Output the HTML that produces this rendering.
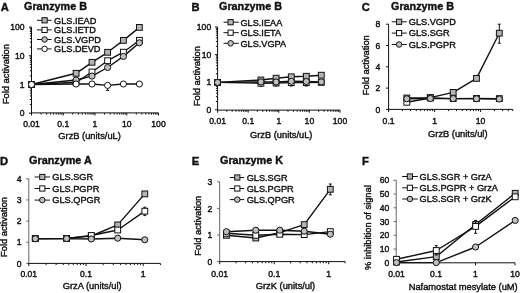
<!DOCTYPE html>
<html><head><meta charset="utf-8"><style>
html,body{margin:0;padding:0;background:#fff;}
body{width:520px;height:293px;overflow:hidden;}
svg{display:block;will-change:transform;filter:blur(0.3px);}
text{font-family:"Liberation Sans", sans-serif;fill:#111;stroke:#111;stroke-width:0.4px;}
</style></head><body>
<svg width="520" height="293" viewBox="0 0 520 293">
<rect width="520" height="293" fill="#fff"/>
<text x="0.80" y="11.00" font-size="11.2" text-anchor="start" font-weight="bold">A</text>
<text x="24.00" y="9.60" font-size="10.8" text-anchor="start" font-weight="bold">Granzyme B</text>
<line x1="31.50" y1="27.10" x2="31.50" y2="113.70" stroke="#111" stroke-width="1.0"/>
<line x1="28.90" y1="113.20" x2="31.50" y2="113.20" stroke="#111" stroke-width="1.0"/>
<line x1="29.80" y1="104.56" x2="31.50" y2="104.56" stroke="#111" stroke-width="1.0"/>
<line x1="29.80" y1="99.51" x2="31.50" y2="99.51" stroke="#111" stroke-width="1.0"/>
<line x1="29.80" y1="95.92" x2="31.50" y2="95.92" stroke="#111" stroke-width="1.0"/>
<line x1="29.80" y1="93.14" x2="31.50" y2="93.14" stroke="#111" stroke-width="1.0"/>
<line x1="29.80" y1="90.87" x2="31.50" y2="90.87" stroke="#111" stroke-width="1.0"/>
<line x1="29.80" y1="88.95" x2="31.50" y2="88.95" stroke="#111" stroke-width="1.0"/>
<line x1="29.80" y1="87.28" x2="31.50" y2="87.28" stroke="#111" stroke-width="1.0"/>
<line x1="29.80" y1="85.81" x2="31.50" y2="85.81" stroke="#111" stroke-width="1.0"/>
<line x1="28.90" y1="84.50" x2="31.50" y2="84.50" stroke="#111" stroke-width="1.0"/>
<line x1="29.80" y1="75.86" x2="31.50" y2="75.86" stroke="#111" stroke-width="1.0"/>
<line x1="29.80" y1="70.81" x2="31.50" y2="70.81" stroke="#111" stroke-width="1.0"/>
<line x1="29.80" y1="67.22" x2="31.50" y2="67.22" stroke="#111" stroke-width="1.0"/>
<line x1="29.80" y1="64.44" x2="31.50" y2="64.44" stroke="#111" stroke-width="1.0"/>
<line x1="29.80" y1="62.17" x2="31.50" y2="62.17" stroke="#111" stroke-width="1.0"/>
<line x1="29.80" y1="60.25" x2="31.50" y2="60.25" stroke="#111" stroke-width="1.0"/>
<line x1="29.80" y1="58.58" x2="31.50" y2="58.58" stroke="#111" stroke-width="1.0"/>
<line x1="29.80" y1="57.11" x2="31.50" y2="57.11" stroke="#111" stroke-width="1.0"/>
<line x1="28.90" y1="55.80" x2="31.50" y2="55.80" stroke="#111" stroke-width="1.0"/>
<line x1="29.80" y1="47.16" x2="31.50" y2="47.16" stroke="#111" stroke-width="1.0"/>
<line x1="29.80" y1="42.11" x2="31.50" y2="42.11" stroke="#111" stroke-width="1.0"/>
<line x1="29.80" y1="38.52" x2="31.50" y2="38.52" stroke="#111" stroke-width="1.0"/>
<line x1="29.80" y1="35.74" x2="31.50" y2="35.74" stroke="#111" stroke-width="1.0"/>
<line x1="29.80" y1="33.47" x2="31.50" y2="33.47" stroke="#111" stroke-width="1.0"/>
<line x1="29.80" y1="31.55" x2="31.50" y2="31.55" stroke="#111" stroke-width="1.0"/>
<line x1="29.80" y1="29.88" x2="31.50" y2="29.88" stroke="#111" stroke-width="1.0"/>
<line x1="29.80" y1="28.41" x2="31.50" y2="28.41" stroke="#111" stroke-width="1.0"/>
<line x1="28.90" y1="27.10" x2="31.50" y2="27.10" stroke="#111" stroke-width="1.0"/>
<text x="24.60" y="30.20" font-size="8.6" text-anchor="end">100</text>
<text x="24.60" y="58.90" font-size="8.6" text-anchor="end">10</text>
<text x="24.60" y="87.60" font-size="8.6" text-anchor="end">1</text>
<text x="24.60" y="116.30" font-size="8.6" text-anchor="end">0</text>
<line x1="31.00" y1="112.90" x2="158.50" y2="112.90" stroke="#111" stroke-width="1.0"/>
<line x1="31.50" y1="112.90" x2="31.50" y2="115.50" stroke="#111" stroke-width="1.0"/>
<line x1="41.06" y1="112.90" x2="41.06" y2="114.60" stroke="#111" stroke-width="1.0"/>
<line x1="46.65" y1="112.90" x2="46.65" y2="114.60" stroke="#111" stroke-width="1.0"/>
<line x1="50.62" y1="112.90" x2="50.62" y2="114.60" stroke="#111" stroke-width="1.0"/>
<line x1="53.69" y1="112.90" x2="53.69" y2="114.60" stroke="#111" stroke-width="1.0"/>
<line x1="56.21" y1="112.90" x2="56.21" y2="114.60" stroke="#111" stroke-width="1.0"/>
<line x1="58.33" y1="112.90" x2="58.33" y2="114.60" stroke="#111" stroke-width="1.0"/>
<line x1="60.17" y1="112.90" x2="60.17" y2="114.60" stroke="#111" stroke-width="1.0"/>
<line x1="61.80" y1="112.90" x2="61.80" y2="114.60" stroke="#111" stroke-width="1.0"/>
<line x1="63.25" y1="112.90" x2="63.25" y2="115.50" stroke="#111" stroke-width="1.0"/>
<line x1="72.81" y1="112.90" x2="72.81" y2="114.60" stroke="#111" stroke-width="1.0"/>
<line x1="78.40" y1="112.90" x2="78.40" y2="114.60" stroke="#111" stroke-width="1.0"/>
<line x1="82.37" y1="112.90" x2="82.37" y2="114.60" stroke="#111" stroke-width="1.0"/>
<line x1="85.44" y1="112.90" x2="85.44" y2="114.60" stroke="#111" stroke-width="1.0"/>
<line x1="87.96" y1="112.90" x2="87.96" y2="114.60" stroke="#111" stroke-width="1.0"/>
<line x1="90.08" y1="112.90" x2="90.08" y2="114.60" stroke="#111" stroke-width="1.0"/>
<line x1="91.92" y1="112.90" x2="91.92" y2="114.60" stroke="#111" stroke-width="1.0"/>
<line x1="93.55" y1="112.90" x2="93.55" y2="114.60" stroke="#111" stroke-width="1.0"/>
<line x1="95.00" y1="112.90" x2="95.00" y2="115.50" stroke="#111" stroke-width="1.0"/>
<line x1="104.56" y1="112.90" x2="104.56" y2="114.60" stroke="#111" stroke-width="1.0"/>
<line x1="110.15" y1="112.90" x2="110.15" y2="114.60" stroke="#111" stroke-width="1.0"/>
<line x1="114.12" y1="112.90" x2="114.12" y2="114.60" stroke="#111" stroke-width="1.0"/>
<line x1="117.19" y1="112.90" x2="117.19" y2="114.60" stroke="#111" stroke-width="1.0"/>
<line x1="119.71" y1="112.90" x2="119.71" y2="114.60" stroke="#111" stroke-width="1.0"/>
<line x1="121.83" y1="112.90" x2="121.83" y2="114.60" stroke="#111" stroke-width="1.0"/>
<line x1="123.67" y1="112.90" x2="123.67" y2="114.60" stroke="#111" stroke-width="1.0"/>
<line x1="125.30" y1="112.90" x2="125.30" y2="114.60" stroke="#111" stroke-width="1.0"/>
<line x1="126.75" y1="112.90" x2="126.75" y2="115.50" stroke="#111" stroke-width="1.0"/>
<line x1="136.31" y1="112.90" x2="136.31" y2="114.60" stroke="#111" stroke-width="1.0"/>
<line x1="141.90" y1="112.90" x2="141.90" y2="114.60" stroke="#111" stroke-width="1.0"/>
<line x1="145.87" y1="112.90" x2="145.87" y2="114.60" stroke="#111" stroke-width="1.0"/>
<line x1="148.94" y1="112.90" x2="148.94" y2="114.60" stroke="#111" stroke-width="1.0"/>
<line x1="151.46" y1="112.90" x2="151.46" y2="114.60" stroke="#111" stroke-width="1.0"/>
<line x1="153.58" y1="112.90" x2="153.58" y2="114.60" stroke="#111" stroke-width="1.0"/>
<line x1="155.42" y1="112.90" x2="155.42" y2="114.60" stroke="#111" stroke-width="1.0"/>
<line x1="157.05" y1="112.90" x2="157.05" y2="114.60" stroke="#111" stroke-width="1.0"/>
<line x1="158.50" y1="112.90" x2="158.50" y2="115.50" stroke="#111" stroke-width="1.0"/>
<text x="31.50" y="126.50" font-size="8.6" text-anchor="middle">0.01</text>
<text x="63.25" y="126.50" font-size="8.6" text-anchor="middle">0.1</text>
<text x="95.00" y="126.50" font-size="8.6" text-anchor="middle">1</text>
<text x="126.75" y="126.50" font-size="8.6" text-anchor="middle">10</text>
<text x="158.50" y="126.50" font-size="8.6" text-anchor="middle">100</text>
<text x="89.60" y="139.30" font-size="9.3" text-anchor="middle">GrzB (units/uL)</text>
<text x="9.40" y="74.10" font-size="9.3" text-anchor="middle" transform="rotate(-90 9.40 74.10)">Fold activation</text>
<line x1="37.00" y1="20.30" x2="51.50" y2="20.30" stroke="#111" stroke-width="1.0"/>
<rect x="42.00" y="17.70" width="5.20" height="5.20" fill="#b4b4b4" stroke="#111" stroke-width="1"/>
<text x="54.00" y="23.60" font-size="9.2" text-anchor="start">GLS.IEAD</text>
<line x1="37.00" y1="29.90" x2="51.50" y2="29.90" stroke="#111" stroke-width="1.0"/>
<rect x="42.00" y="27.30" width="5.20" height="5.20" fill="#fff" stroke="#111" stroke-width="1"/>
<text x="54.00" y="33.20" font-size="9.2" text-anchor="start">GLS.IETD</text>
<line x1="37.00" y1="39.50" x2="51.50" y2="39.50" stroke="#111" stroke-width="1.0"/>
<circle cx="44.60" cy="39.50" r="2.76" fill="#c0c0c0" stroke="#111" stroke-width="1"/>
<text x="54.00" y="42.80" font-size="9.2" text-anchor="start">GLS.VGPD</text>
<line x1="37.00" y1="48.90" x2="51.50" y2="48.90" stroke="#111" stroke-width="1.0"/>
<circle cx="44.60" cy="48.90" r="2.76" fill="#fff" stroke="#111" stroke-width="1"/>
<text x="54.00" y="52.20" font-size="9.2" text-anchor="start">GLS.DEVD</text>
<polyline points="31.50,84.50 76.10,73.30 92.00,62.30 107.60,52.30 123.40,40.40 139.40,27.40" fill="none" stroke="#111" stroke-width="1.4" stroke-linejoin="round"/>
<polyline points="31.50,84.50 76.10,82.30 92.00,72.00 107.60,60.70 123.40,52.20 139.40,40.30" fill="none" stroke="#111" stroke-width="1.4" stroke-linejoin="round"/>
<polyline points="31.50,84.50 76.10,80.00 92.00,76.10 107.60,67.50 123.40,56.40 139.40,42.80" fill="none" stroke="#111" stroke-width="1.4" stroke-linejoin="round"/>
<polyline points="31.50,84.50 76.10,84.00 92.00,84.00 107.60,85.40 123.40,84.00 139.40,84.00" fill="none" stroke="#111" stroke-width="1.4" stroke-linejoin="round"/>
<rect x="28.60" y="81.60" width="5.80" height="5.80" fill="#b4b4b4" stroke="#111" stroke-width="1"/>
<rect x="73.20" y="70.40" width="5.80" height="5.80" fill="#b4b4b4" stroke="#111" stroke-width="1"/>
<rect x="89.10" y="59.40" width="5.80" height="5.80" fill="#b4b4b4" stroke="#111" stroke-width="1"/>
<rect x="104.70" y="49.40" width="5.80" height="5.80" fill="#b4b4b4" stroke="#111" stroke-width="1"/>
<rect x="120.50" y="37.50" width="5.80" height="5.80" fill="#b4b4b4" stroke="#111" stroke-width="1"/>
<rect x="136.50" y="24.50" width="5.80" height="5.80" fill="#b4b4b4" stroke="#111" stroke-width="1"/>
<rect x="28.60" y="81.60" width="5.80" height="5.80" fill="#fff" stroke="#111" stroke-width="1"/>
<rect x="73.20" y="79.40" width="5.80" height="5.80" fill="#fff" stroke="#111" stroke-width="1"/>
<rect x="89.10" y="69.10" width="5.80" height="5.80" fill="#fff" stroke="#111" stroke-width="1"/>
<rect x="104.70" y="57.80" width="5.80" height="5.80" fill="#fff" stroke="#111" stroke-width="1"/>
<rect x="120.50" y="49.30" width="5.80" height="5.80" fill="#fff" stroke="#111" stroke-width="1"/>
<rect x="136.50" y="37.40" width="5.80" height="5.80" fill="#fff" stroke="#111" stroke-width="1"/>
<circle cx="31.50" cy="84.50" r="3.07" fill="#c0c0c0" stroke="#111" stroke-width="1"/>
<circle cx="76.10" cy="80.00" r="3.07" fill="#c0c0c0" stroke="#111" stroke-width="1"/>
<circle cx="92.00" cy="76.10" r="3.07" fill="#c0c0c0" stroke="#111" stroke-width="1"/>
<circle cx="107.60" cy="67.50" r="3.07" fill="#c0c0c0" stroke="#111" stroke-width="1"/>
<circle cx="123.40" cy="56.40" r="3.07" fill="#c0c0c0" stroke="#111" stroke-width="1"/>
<circle cx="139.40" cy="42.80" r="3.07" fill="#c0c0c0" stroke="#111" stroke-width="1"/>
<line x1="107.60" y1="84.00" x2="107.60" y2="90.40" stroke="#111" stroke-width="1.0"/>
<line x1="106.10" y1="84.00" x2="109.10" y2="84.00" stroke="#111" stroke-width="1.0"/>
<line x1="106.10" y1="90.40" x2="109.10" y2="90.40" stroke="#111" stroke-width="1.0"/>
<circle cx="31.50" cy="84.50" r="3.07" fill="#fff" stroke="#111" stroke-width="1"/>
<circle cx="76.10" cy="84.00" r="3.07" fill="#fff" stroke="#111" stroke-width="1"/>
<circle cx="92.00" cy="84.00" r="3.07" fill="#fff" stroke="#111" stroke-width="1"/>
<circle cx="107.60" cy="85.40" r="3.07" fill="#fff" stroke="#111" stroke-width="1"/>
<circle cx="123.40" cy="84.00" r="3.07" fill="#fff" stroke="#111" stroke-width="1"/>
<circle cx="139.40" cy="84.00" r="3.07" fill="#fff" stroke="#111" stroke-width="1"/>
<text x="191.60" y="11.00" font-size="11.2" text-anchor="start" font-weight="bold">B</text>
<text x="219.00" y="9.60" font-size="10.8" text-anchor="start" font-weight="bold">Granzyme B</text>
<line x1="217.60" y1="27.00" x2="217.60" y2="110.30" stroke="#111" stroke-width="1.0"/>
<line x1="215.00" y1="109.80" x2="217.60" y2="109.80" stroke="#111" stroke-width="1.0"/>
<line x1="215.90" y1="101.49" x2="217.60" y2="101.49" stroke="#111" stroke-width="1.0"/>
<line x1="215.90" y1="96.63" x2="217.60" y2="96.63" stroke="#111" stroke-width="1.0"/>
<line x1="215.90" y1="93.18" x2="217.60" y2="93.18" stroke="#111" stroke-width="1.0"/>
<line x1="215.90" y1="90.51" x2="217.60" y2="90.51" stroke="#111" stroke-width="1.0"/>
<line x1="215.90" y1="88.32" x2="217.60" y2="88.32" stroke="#111" stroke-width="1.0"/>
<line x1="215.90" y1="86.48" x2="217.60" y2="86.48" stroke="#111" stroke-width="1.0"/>
<line x1="215.90" y1="84.87" x2="217.60" y2="84.87" stroke="#111" stroke-width="1.0"/>
<line x1="215.90" y1="83.46" x2="217.60" y2="83.46" stroke="#111" stroke-width="1.0"/>
<line x1="215.00" y1="82.20" x2="217.60" y2="82.20" stroke="#111" stroke-width="1.0"/>
<line x1="215.90" y1="73.89" x2="217.60" y2="73.89" stroke="#111" stroke-width="1.0"/>
<line x1="215.90" y1="69.03" x2="217.60" y2="69.03" stroke="#111" stroke-width="1.0"/>
<line x1="215.90" y1="65.58" x2="217.60" y2="65.58" stroke="#111" stroke-width="1.0"/>
<line x1="215.90" y1="62.91" x2="217.60" y2="62.91" stroke="#111" stroke-width="1.0"/>
<line x1="215.90" y1="60.72" x2="217.60" y2="60.72" stroke="#111" stroke-width="1.0"/>
<line x1="215.90" y1="58.88" x2="217.60" y2="58.88" stroke="#111" stroke-width="1.0"/>
<line x1="215.90" y1="57.27" x2="217.60" y2="57.27" stroke="#111" stroke-width="1.0"/>
<line x1="215.90" y1="55.86" x2="217.60" y2="55.86" stroke="#111" stroke-width="1.0"/>
<line x1="215.00" y1="54.60" x2="217.60" y2="54.60" stroke="#111" stroke-width="1.0"/>
<line x1="215.90" y1="46.29" x2="217.60" y2="46.29" stroke="#111" stroke-width="1.0"/>
<line x1="215.90" y1="41.43" x2="217.60" y2="41.43" stroke="#111" stroke-width="1.0"/>
<line x1="215.90" y1="37.98" x2="217.60" y2="37.98" stroke="#111" stroke-width="1.0"/>
<line x1="215.90" y1="35.31" x2="217.60" y2="35.31" stroke="#111" stroke-width="1.0"/>
<line x1="215.90" y1="33.12" x2="217.60" y2="33.12" stroke="#111" stroke-width="1.0"/>
<line x1="215.90" y1="31.28" x2="217.60" y2="31.28" stroke="#111" stroke-width="1.0"/>
<line x1="215.90" y1="29.67" x2="217.60" y2="29.67" stroke="#111" stroke-width="1.0"/>
<line x1="215.90" y1="28.26" x2="217.60" y2="28.26" stroke="#111" stroke-width="1.0"/>
<line x1="215.00" y1="27.00" x2="217.60" y2="27.00" stroke="#111" stroke-width="1.0"/>
<text x="211.20" y="30.10" font-size="8.6" text-anchor="end">100</text>
<text x="211.20" y="57.70" font-size="8.6" text-anchor="end">10</text>
<text x="211.20" y="85.30" font-size="8.6" text-anchor="end">1</text>
<text x="211.20" y="112.90" font-size="8.6" text-anchor="end">0</text>
<line x1="217.10" y1="110.10" x2="340.00" y2="110.10" stroke="#111" stroke-width="1.0"/>
<line x1="217.60" y1="110.10" x2="217.60" y2="112.70" stroke="#111" stroke-width="1.0"/>
<line x1="226.81" y1="110.10" x2="226.81" y2="111.80" stroke="#111" stroke-width="1.0"/>
<line x1="232.20" y1="110.10" x2="232.20" y2="111.80" stroke="#111" stroke-width="1.0"/>
<line x1="236.02" y1="110.10" x2="236.02" y2="111.80" stroke="#111" stroke-width="1.0"/>
<line x1="238.99" y1="110.10" x2="238.99" y2="111.80" stroke="#111" stroke-width="1.0"/>
<line x1="241.41" y1="110.10" x2="241.41" y2="111.80" stroke="#111" stroke-width="1.0"/>
<line x1="243.46" y1="110.10" x2="243.46" y2="111.80" stroke="#111" stroke-width="1.0"/>
<line x1="245.23" y1="110.10" x2="245.23" y2="111.80" stroke="#111" stroke-width="1.0"/>
<line x1="246.80" y1="110.10" x2="246.80" y2="111.80" stroke="#111" stroke-width="1.0"/>
<line x1="248.20" y1="110.10" x2="248.20" y2="112.70" stroke="#111" stroke-width="1.0"/>
<line x1="257.41" y1="110.10" x2="257.41" y2="111.80" stroke="#111" stroke-width="1.0"/>
<line x1="262.80" y1="110.10" x2="262.80" y2="111.80" stroke="#111" stroke-width="1.0"/>
<line x1="266.62" y1="110.10" x2="266.62" y2="111.80" stroke="#111" stroke-width="1.0"/>
<line x1="269.59" y1="110.10" x2="269.59" y2="111.80" stroke="#111" stroke-width="1.0"/>
<line x1="272.01" y1="110.10" x2="272.01" y2="111.80" stroke="#111" stroke-width="1.0"/>
<line x1="274.06" y1="110.10" x2="274.06" y2="111.80" stroke="#111" stroke-width="1.0"/>
<line x1="275.83" y1="110.10" x2="275.83" y2="111.80" stroke="#111" stroke-width="1.0"/>
<line x1="277.40" y1="110.10" x2="277.40" y2="111.80" stroke="#111" stroke-width="1.0"/>
<line x1="278.80" y1="110.10" x2="278.80" y2="112.70" stroke="#111" stroke-width="1.0"/>
<line x1="288.01" y1="110.10" x2="288.01" y2="111.80" stroke="#111" stroke-width="1.0"/>
<line x1="293.40" y1="110.10" x2="293.40" y2="111.80" stroke="#111" stroke-width="1.0"/>
<line x1="297.22" y1="110.10" x2="297.22" y2="111.80" stroke="#111" stroke-width="1.0"/>
<line x1="300.19" y1="110.10" x2="300.19" y2="111.80" stroke="#111" stroke-width="1.0"/>
<line x1="302.61" y1="110.10" x2="302.61" y2="111.80" stroke="#111" stroke-width="1.0"/>
<line x1="304.66" y1="110.10" x2="304.66" y2="111.80" stroke="#111" stroke-width="1.0"/>
<line x1="306.43" y1="110.10" x2="306.43" y2="111.80" stroke="#111" stroke-width="1.0"/>
<line x1="308.00" y1="110.10" x2="308.00" y2="111.80" stroke="#111" stroke-width="1.0"/>
<line x1="309.40" y1="110.10" x2="309.40" y2="112.70" stroke="#111" stroke-width="1.0"/>
<line x1="318.61" y1="110.10" x2="318.61" y2="111.80" stroke="#111" stroke-width="1.0"/>
<line x1="324.00" y1="110.10" x2="324.00" y2="111.80" stroke="#111" stroke-width="1.0"/>
<line x1="327.82" y1="110.10" x2="327.82" y2="111.80" stroke="#111" stroke-width="1.0"/>
<line x1="330.79" y1="110.10" x2="330.79" y2="111.80" stroke="#111" stroke-width="1.0"/>
<line x1="333.21" y1="110.10" x2="333.21" y2="111.80" stroke="#111" stroke-width="1.0"/>
<line x1="335.26" y1="110.10" x2="335.26" y2="111.80" stroke="#111" stroke-width="1.0"/>
<line x1="337.03" y1="110.10" x2="337.03" y2="111.80" stroke="#111" stroke-width="1.0"/>
<line x1="338.60" y1="110.10" x2="338.60" y2="111.80" stroke="#111" stroke-width="1.0"/>
<line x1="340.00" y1="110.10" x2="340.00" y2="112.70" stroke="#111" stroke-width="1.0"/>
<text x="217.60" y="124.20" font-size="8.6" text-anchor="middle">0.01</text>
<text x="248.20" y="124.20" font-size="8.6" text-anchor="middle">0.1</text>
<text x="278.80" y="124.20" font-size="8.6" text-anchor="middle">1</text>
<text x="309.40" y="124.20" font-size="8.6" text-anchor="middle">10</text>
<text x="340.00" y="124.20" font-size="8.6" text-anchor="middle">100</text>
<text x="281.20" y="137.70" font-size="9.3" text-anchor="middle">GrzB (units/uL)</text>
<text x="199.90" y="76.10" font-size="9.3" text-anchor="middle" transform="rotate(-90 199.90 76.10)">Fold activation</text>
<line x1="223.50" y1="22.20" x2="238.80" y2="22.20" stroke="#111" stroke-width="1.0"/>
<rect x="228.00" y="19.60" width="5.20" height="5.20" fill="#b4b4b4" stroke="#111" stroke-width="1"/>
<text x="240.40" y="25.50" font-size="9.2" text-anchor="start">GLS.IEAA</text>
<line x1="223.50" y1="32.70" x2="238.80" y2="32.70" stroke="#111" stroke-width="1.0"/>
<rect x="228.00" y="30.10" width="5.20" height="5.20" fill="#fff" stroke="#111" stroke-width="1"/>
<text x="240.40" y="36.00" font-size="9.2" text-anchor="start">GLS.IETA</text>
<line x1="223.50" y1="43.30" x2="238.80" y2="43.30" stroke="#111" stroke-width="1.0"/>
<circle cx="230.60" cy="43.30" r="2.76" fill="#c0c0c0" stroke="#111" stroke-width="1"/>
<text x="240.40" y="46.60" font-size="9.2" text-anchor="start">GLS.VGPA</text>
<polyline points="217.60,82.40 260.90,80.00 276.10,78.20 291.30,76.80 306.30,76.30 321.30,75.20" fill="none" stroke="#111" stroke-width="1.4" stroke-linejoin="round"/>
<polyline points="217.60,82.40 260.90,83.20 276.10,83.00 291.30,82.60 306.30,82.60 321.30,82.40" fill="none" stroke="#111" stroke-width="1.4" stroke-linejoin="round"/>
<polyline points="217.60,82.40 260.90,81.90 276.10,82.00 291.30,81.30 306.30,81.50 321.30,81.90" fill="none" stroke="#111" stroke-width="1.4" stroke-linejoin="round"/>
<rect x="214.70" y="79.50" width="5.80" height="5.80" fill="#b4b4b4" stroke="#111" stroke-width="1"/>
<rect x="258.00" y="77.10" width="5.80" height="5.80" fill="#b4b4b4" stroke="#111" stroke-width="1"/>
<rect x="273.20" y="75.30" width="5.80" height="5.80" fill="#b4b4b4" stroke="#111" stroke-width="1"/>
<rect x="288.40" y="73.90" width="5.80" height="5.80" fill="#b4b4b4" stroke="#111" stroke-width="1"/>
<rect x="303.40" y="73.40" width="5.80" height="5.80" fill="#b4b4b4" stroke="#111" stroke-width="1"/>
<rect x="318.40" y="72.30" width="5.80" height="5.80" fill="#b4b4b4" stroke="#111" stroke-width="1"/>
<line x1="260.90" y1="80.50" x2="260.90" y2="86.50" stroke="#111" stroke-width="1.0"/>
<line x1="259.40" y1="80.50" x2="262.40" y2="80.50" stroke="#111" stroke-width="1.0"/>
<line x1="259.40" y1="86.50" x2="262.40" y2="86.50" stroke="#111" stroke-width="1.0"/>
<line x1="276.10" y1="80.00" x2="276.10" y2="86.00" stroke="#111" stroke-width="1.0"/>
<line x1="274.60" y1="80.00" x2="277.60" y2="80.00" stroke="#111" stroke-width="1.0"/>
<line x1="274.60" y1="86.00" x2="277.60" y2="86.00" stroke="#111" stroke-width="1.0"/>
<line x1="291.30" y1="80.00" x2="291.30" y2="86.00" stroke="#111" stroke-width="1.0"/>
<line x1="289.80" y1="80.00" x2="292.80" y2="80.00" stroke="#111" stroke-width="1.0"/>
<line x1="289.80" y1="86.00" x2="292.80" y2="86.00" stroke="#111" stroke-width="1.0"/>
<line x1="306.30" y1="80.00" x2="306.30" y2="86.00" stroke="#111" stroke-width="1.0"/>
<line x1="304.80" y1="80.00" x2="307.80" y2="80.00" stroke="#111" stroke-width="1.0"/>
<line x1="304.80" y1="86.00" x2="307.80" y2="86.00" stroke="#111" stroke-width="1.0"/>
<rect x="214.70" y="79.50" width="5.80" height="5.80" fill="#fff" stroke="#111" stroke-width="1"/>
<rect x="258.00" y="80.30" width="5.80" height="5.80" fill="#fff" stroke="#111" stroke-width="1"/>
<rect x="273.20" y="80.10" width="5.80" height="5.80" fill="#fff" stroke="#111" stroke-width="1"/>
<rect x="288.40" y="79.70" width="5.80" height="5.80" fill="#fff" stroke="#111" stroke-width="1"/>
<rect x="303.40" y="79.70" width="5.80" height="5.80" fill="#fff" stroke="#111" stroke-width="1"/>
<rect x="318.40" y="79.50" width="5.80" height="5.80" fill="#fff" stroke="#111" stroke-width="1"/>
<circle cx="217.60" cy="82.40" r="3.07" fill="#c0c0c0" stroke="#111" stroke-width="1"/>
<circle cx="260.90" cy="81.90" r="3.07" fill="#c0c0c0" stroke="#111" stroke-width="1"/>
<circle cx="276.10" cy="82.00" r="3.07" fill="#c0c0c0" stroke="#111" stroke-width="1"/>
<circle cx="291.30" cy="81.30" r="3.07" fill="#c0c0c0" stroke="#111" stroke-width="1"/>
<circle cx="306.30" cy="81.50" r="3.07" fill="#c0c0c0" stroke="#111" stroke-width="1"/>
<circle cx="321.30" cy="81.90" r="3.07" fill="#c0c0c0" stroke="#111" stroke-width="1"/>
<text x="361.80" y="11.00" font-size="11.2" text-anchor="start" font-weight="bold">C</text>
<text x="391.00" y="9.60" font-size="10.8" text-anchor="start" font-weight="bold">Granzyme B</text>
<line x1="388.60" y1="24.20" x2="388.60" y2="109.90" stroke="#111" stroke-width="1.0"/>
<line x1="386.00" y1="109.40" x2="388.60" y2="109.40" stroke="#111" stroke-width="1.0"/>
<text x="380.40" y="112.50" font-size="8.6" text-anchor="end">0</text>
<line x1="386.00" y1="88.10" x2="388.60" y2="88.10" stroke="#111" stroke-width="1.0"/>
<text x="380.40" y="91.20" font-size="8.6" text-anchor="end">2</text>
<line x1="386.00" y1="66.80" x2="388.60" y2="66.80" stroke="#111" stroke-width="1.0"/>
<text x="380.40" y="69.90" font-size="8.6" text-anchor="end">4</text>
<line x1="386.00" y1="45.50" x2="388.60" y2="45.50" stroke="#111" stroke-width="1.0"/>
<text x="380.40" y="48.60" font-size="8.6" text-anchor="end">6</text>
<line x1="386.00" y1="24.20" x2="388.60" y2="24.20" stroke="#111" stroke-width="1.0"/>
<text x="380.40" y="27.30" font-size="8.6" text-anchor="end">8</text>
<line x1="388.10" y1="109.40" x2="512.75" y2="109.40" stroke="#111" stroke-width="1.0"/>
<line x1="388.60" y1="109.40" x2="388.60" y2="112.00" stroke="#111" stroke-width="1.0"/>
<line x1="402.45" y1="109.40" x2="402.45" y2="111.10" stroke="#111" stroke-width="1.0"/>
<line x1="410.55" y1="109.40" x2="410.55" y2="111.10" stroke="#111" stroke-width="1.0"/>
<line x1="416.29" y1="109.40" x2="416.29" y2="111.10" stroke="#111" stroke-width="1.0"/>
<line x1="420.75" y1="109.40" x2="420.75" y2="111.10" stroke="#111" stroke-width="1.0"/>
<line x1="424.39" y1="109.40" x2="424.39" y2="111.10" stroke="#111" stroke-width="1.0"/>
<line x1="427.47" y1="109.40" x2="427.47" y2="111.10" stroke="#111" stroke-width="1.0"/>
<line x1="430.14" y1="109.40" x2="430.14" y2="111.10" stroke="#111" stroke-width="1.0"/>
<line x1="432.50" y1="109.40" x2="432.50" y2="111.10" stroke="#111" stroke-width="1.0"/>
<line x1="434.60" y1="109.40" x2="434.60" y2="112.00" stroke="#111" stroke-width="1.0"/>
<line x1="448.45" y1="109.40" x2="448.45" y2="111.10" stroke="#111" stroke-width="1.0"/>
<line x1="456.55" y1="109.40" x2="456.55" y2="111.10" stroke="#111" stroke-width="1.0"/>
<line x1="462.29" y1="109.40" x2="462.29" y2="111.10" stroke="#111" stroke-width="1.0"/>
<line x1="466.75" y1="109.40" x2="466.75" y2="111.10" stroke="#111" stroke-width="1.0"/>
<line x1="470.39" y1="109.40" x2="470.39" y2="111.10" stroke="#111" stroke-width="1.0"/>
<line x1="473.47" y1="109.40" x2="473.47" y2="111.10" stroke="#111" stroke-width="1.0"/>
<line x1="476.14" y1="109.40" x2="476.14" y2="111.10" stroke="#111" stroke-width="1.0"/>
<line x1="478.50" y1="109.40" x2="478.50" y2="111.10" stroke="#111" stroke-width="1.0"/>
<line x1="480.60" y1="109.40" x2="480.60" y2="112.00" stroke="#111" stroke-width="1.0"/>
<line x1="494.45" y1="109.40" x2="494.45" y2="111.10" stroke="#111" stroke-width="1.0"/>
<line x1="502.55" y1="109.40" x2="502.55" y2="111.10" stroke="#111" stroke-width="1.0"/>
<line x1="508.29" y1="109.40" x2="508.29" y2="111.10" stroke="#111" stroke-width="1.0"/>
<line x1="512.75" y1="109.40" x2="512.75" y2="111.10" stroke="#111" stroke-width="1.0"/>
<text x="388.60" y="123.90" font-size="8.6" text-anchor="middle">0.1</text>
<text x="434.60" y="123.90" font-size="8.6" text-anchor="middle">1</text>
<text x="480.60" y="123.90" font-size="8.6" text-anchor="middle">10</text>
<text x="457.80" y="136.60" font-size="9.3" text-anchor="middle">GrzB (units/ul)</text>
<text x="369.50" y="65.20" font-size="9.3" text-anchor="middle" transform="rotate(-90 369.50 65.20)">Fold activation</text>
<line x1="391.80" y1="21.80" x2="406.80" y2="21.80" stroke="#111" stroke-width="1.0"/>
<rect x="396.50" y="19.20" width="5.20" height="5.20" fill="#b4b4b4" stroke="#111" stroke-width="1"/>
<text x="408.80" y="25.10" font-size="9.2" text-anchor="start">GLS.VGPD</text>
<line x1="391.80" y1="33.10" x2="406.80" y2="33.10" stroke="#111" stroke-width="1.0"/>
<rect x="396.50" y="30.50" width="5.20" height="5.20" fill="#fff" stroke="#111" stroke-width="1"/>
<text x="408.80" y="36.40" font-size="9.2" text-anchor="start">GLS.SGR</text>
<line x1="391.80" y1="44.50" x2="406.80" y2="44.50" stroke="#111" stroke-width="1.0"/>
<circle cx="399.10" cy="44.50" r="2.76" fill="#c0c0c0" stroke="#111" stroke-width="1"/>
<text x="408.80" y="47.80" font-size="9.2" text-anchor="start">GLS.PGPR</text>
<polyline points="406.80,98.00 430.30,97.60 453.20,92.40 476.50,78.40 499.30,33.20" fill="none" stroke="#111" stroke-width="1.4" stroke-linejoin="round"/>
<polyline points="406.80,102.30 430.30,98.00 453.20,98.60 476.50,98.40 499.30,98.60" fill="none" stroke="#111" stroke-width="1.4" stroke-linejoin="round"/>
<polyline points="406.80,98.80 430.30,98.50 453.20,98.60 476.50,98.80 499.30,99.00" fill="none" stroke="#111" stroke-width="1.4" stroke-linejoin="round"/>
<line x1="499.30" y1="24.20" x2="499.30" y2="43.20" stroke="#111" stroke-width="1.0"/>
<line x1="497.80" y1="24.20" x2="500.80" y2="24.20" stroke="#111" stroke-width="1.0"/>
<line x1="497.80" y1="43.20" x2="500.80" y2="43.20" stroke="#111" stroke-width="1.0"/>
<rect x="403.90" y="95.10" width="5.80" height="5.80" fill="#b4b4b4" stroke="#111" stroke-width="1"/>
<rect x="427.40" y="94.70" width="5.80" height="5.80" fill="#b4b4b4" stroke="#111" stroke-width="1"/>
<rect x="450.30" y="89.50" width="5.80" height="5.80" fill="#b4b4b4" stroke="#111" stroke-width="1"/>
<rect x="473.60" y="75.50" width="5.80" height="5.80" fill="#b4b4b4" stroke="#111" stroke-width="1"/>
<rect x="496.40" y="30.30" width="5.80" height="5.80" fill="#b4b4b4" stroke="#111" stroke-width="1"/>
<rect x="403.90" y="99.40" width="5.80" height="5.80" fill="#fff" stroke="#111" stroke-width="1"/>
<rect x="427.40" y="95.10" width="5.80" height="5.80" fill="#fff" stroke="#111" stroke-width="1"/>
<rect x="450.30" y="95.70" width="5.80" height="5.80" fill="#fff" stroke="#111" stroke-width="1"/>
<rect x="473.60" y="95.50" width="5.80" height="5.80" fill="#fff" stroke="#111" stroke-width="1"/>
<rect x="496.40" y="95.70" width="5.80" height="5.80" fill="#fff" stroke="#111" stroke-width="1"/>
<circle cx="406.80" cy="98.80" r="3.07" fill="#c0c0c0" stroke="#111" stroke-width="1"/>
<circle cx="430.30" cy="98.50" r="3.07" fill="#c0c0c0" stroke="#111" stroke-width="1"/>
<circle cx="453.20" cy="98.60" r="3.07" fill="#c0c0c0" stroke="#111" stroke-width="1"/>
<circle cx="476.50" cy="98.80" r="3.07" fill="#c0c0c0" stroke="#111" stroke-width="1"/>
<circle cx="499.30" cy="99.00" r="3.07" fill="#c0c0c0" stroke="#111" stroke-width="1"/>
<text x="0.00" y="165.00" font-size="11.2" text-anchor="start" font-weight="bold">D</text>
<text x="29.10" y="163.90" font-size="10.8" text-anchor="start" font-weight="bold">Granzyme A</text>
<line x1="28.80" y1="178.80" x2="28.80" y2="263.90" stroke="#666" stroke-width="1.0"/>
<line x1="26.20" y1="263.40" x2="28.80" y2="263.40" stroke="#666" stroke-width="1.0"/>
<text x="21.60" y="266.50" font-size="8.6" text-anchor="end">0</text>
<line x1="26.20" y1="242.25" x2="28.80" y2="242.25" stroke="#666" stroke-width="1.0"/>
<text x="21.60" y="245.35" font-size="8.6" text-anchor="end">1</text>
<line x1="26.20" y1="221.10" x2="28.80" y2="221.10" stroke="#666" stroke-width="1.0"/>
<text x="21.60" y="224.20" font-size="8.6" text-anchor="end">2</text>
<line x1="26.20" y1="199.95" x2="28.80" y2="199.95" stroke="#666" stroke-width="1.0"/>
<text x="21.60" y="203.05" font-size="8.6" text-anchor="end">3</text>
<line x1="26.20" y1="178.80" x2="28.80" y2="178.80" stroke="#666" stroke-width="1.0"/>
<text x="21.60" y="181.90" font-size="8.6" text-anchor="end">4</text>
<line x1="28.30" y1="263.40" x2="160.42" y2="263.40" stroke="#111" stroke-width="1.0"/>
<line x1="28.80" y1="263.40" x2="28.80" y2="266.00" stroke="#111" stroke-width="1.0"/>
<line x1="46.02" y1="263.40" x2="46.02" y2="265.10" stroke="#111" stroke-width="1.0"/>
<line x1="56.09" y1="263.40" x2="56.09" y2="265.10" stroke="#111" stroke-width="1.0"/>
<line x1="63.24" y1="263.40" x2="63.24" y2="265.10" stroke="#111" stroke-width="1.0"/>
<line x1="68.78" y1="263.40" x2="68.78" y2="265.10" stroke="#111" stroke-width="1.0"/>
<line x1="73.31" y1="263.40" x2="73.31" y2="265.10" stroke="#111" stroke-width="1.0"/>
<line x1="77.14" y1="263.40" x2="77.14" y2="265.10" stroke="#111" stroke-width="1.0"/>
<line x1="80.46" y1="263.40" x2="80.46" y2="265.10" stroke="#111" stroke-width="1.0"/>
<line x1="83.38" y1="263.40" x2="83.38" y2="265.10" stroke="#111" stroke-width="1.0"/>
<line x1="86.00" y1="263.40" x2="86.00" y2="266.00" stroke="#111" stroke-width="1.0"/>
<line x1="103.22" y1="263.40" x2="103.22" y2="265.10" stroke="#111" stroke-width="1.0"/>
<line x1="113.29" y1="263.40" x2="113.29" y2="265.10" stroke="#111" stroke-width="1.0"/>
<line x1="120.44" y1="263.40" x2="120.44" y2="265.10" stroke="#111" stroke-width="1.0"/>
<line x1="125.98" y1="263.40" x2="125.98" y2="265.10" stroke="#111" stroke-width="1.0"/>
<line x1="130.51" y1="263.40" x2="130.51" y2="265.10" stroke="#111" stroke-width="1.0"/>
<line x1="134.34" y1="263.40" x2="134.34" y2="265.10" stroke="#111" stroke-width="1.0"/>
<line x1="137.66" y1="263.40" x2="137.66" y2="265.10" stroke="#111" stroke-width="1.0"/>
<line x1="140.58" y1="263.40" x2="140.58" y2="265.10" stroke="#111" stroke-width="1.0"/>
<line x1="143.20" y1="263.40" x2="143.20" y2="266.00" stroke="#111" stroke-width="1.0"/>
<line x1="160.42" y1="263.40" x2="160.42" y2="265.10" stroke="#111" stroke-width="1.0"/>
<text x="28.80" y="277.00" font-size="8.6" text-anchor="middle">0.01</text>
<text x="86.00" y="277.00" font-size="8.6" text-anchor="middle">0.1</text>
<text x="143.20" y="277.00" font-size="8.6" text-anchor="middle">1</text>
<text x="92.20" y="289.00" font-size="9.3" text-anchor="middle">GrzA (units/ul)</text>
<text x="6.90" y="227.00" font-size="9.3" text-anchor="middle" transform="rotate(-90 6.90 227.00)">Fold activation</text>
<line x1="34.60" y1="177.00" x2="50.00" y2="177.00" stroke="#111" stroke-width="1.0"/>
<rect x="39.70" y="174.40" width="5.20" height="5.20" fill="#b4b4b4" stroke="#111" stroke-width="1"/>
<text x="52.30" y="180.30" font-size="9.2" text-anchor="start">GLS.SGR</text>
<line x1="34.60" y1="188.50" x2="50.00" y2="188.50" stroke="#111" stroke-width="1.0"/>
<rect x="39.70" y="185.90" width="5.20" height="5.20" fill="#fff" stroke="#111" stroke-width="1"/>
<text x="52.30" y="191.80" font-size="9.2" text-anchor="start">GLS.PGPR</text>
<line x1="34.60" y1="200.10" x2="50.00" y2="200.10" stroke="#111" stroke-width="1.0"/>
<circle cx="42.30" cy="200.10" r="2.76" fill="#c0c0c0" stroke="#111" stroke-width="1"/>
<text x="52.30" y="203.40" font-size="9.2" text-anchor="start">GLS.QPGR</text>
<polyline points="35.30,238.60 66.60,238.40 91.30,236.00 117.70,224.90 144.80,193.90" fill="none" stroke="#111" stroke-width="1.4" stroke-linejoin="round"/>
<polyline points="35.30,238.60 66.60,238.40 91.30,235.50 117.70,230.00 144.80,211.20" fill="none" stroke="#111" stroke-width="1.4" stroke-linejoin="round"/>
<polyline points="35.30,238.80 66.60,238.60 91.30,239.00 117.70,238.20 144.80,239.80" fill="none" stroke="#111" stroke-width="1.4" stroke-linejoin="round"/>
<rect x="32.40" y="235.70" width="5.80" height="5.80" fill="#b4b4b4" stroke="#111" stroke-width="1"/>
<rect x="63.70" y="235.50" width="5.80" height="5.80" fill="#b4b4b4" stroke="#111" stroke-width="1"/>
<rect x="88.40" y="233.10" width="5.80" height="5.80" fill="#b4b4b4" stroke="#111" stroke-width="1"/>
<rect x="114.80" y="222.00" width="5.80" height="5.80" fill="#b4b4b4" stroke="#111" stroke-width="1"/>
<rect x="141.90" y="191.00" width="5.80" height="5.80" fill="#b4b4b4" stroke="#111" stroke-width="1"/>
<line x1="144.80" y1="207.20" x2="144.80" y2="215.60" stroke="#111" stroke-width="1.0"/>
<line x1="143.30" y1="207.20" x2="146.30" y2="207.20" stroke="#111" stroke-width="1.0"/>
<line x1="143.30" y1="215.60" x2="146.30" y2="215.60" stroke="#111" stroke-width="1.0"/>
<rect x="32.40" y="235.70" width="5.80" height="5.80" fill="#fff" stroke="#111" stroke-width="1"/>
<rect x="63.70" y="235.50" width="5.80" height="5.80" fill="#fff" stroke="#111" stroke-width="1"/>
<rect x="88.40" y="232.60" width="5.80" height="5.80" fill="#fff" stroke="#111" stroke-width="1"/>
<rect x="114.80" y="227.10" width="5.80" height="5.80" fill="#fff" stroke="#111" stroke-width="1"/>
<rect x="141.90" y="208.30" width="5.80" height="5.80" fill="#fff" stroke="#111" stroke-width="1"/>
<circle cx="35.30" cy="238.80" r="3.07" fill="#c0c0c0" stroke="#111" stroke-width="1"/>
<circle cx="66.60" cy="238.60" r="3.07" fill="#c0c0c0" stroke="#111" stroke-width="1"/>
<circle cx="91.30" cy="239.00" r="3.07" fill="#c0c0c0" stroke="#111" stroke-width="1"/>
<circle cx="117.70" cy="238.20" r="3.07" fill="#c0c0c0" stroke="#111" stroke-width="1"/>
<circle cx="144.80" cy="239.80" r="3.07" fill="#c0c0c0" stroke="#111" stroke-width="1"/>
<text x="191.80" y="164.80" font-size="11.2" text-anchor="start" font-weight="bold">E</text>
<text x="220.00" y="164.00" font-size="10.8" text-anchor="start" font-weight="bold">Granzyme K</text>
<line x1="219.70" y1="181.80" x2="219.70" y2="262.10" stroke="#666" stroke-width="1.0"/>
<line x1="217.10" y1="261.60" x2="219.70" y2="261.60" stroke="#666" stroke-width="1.0"/>
<text x="212.40" y="264.70" font-size="8.6" text-anchor="end">0</text>
<line x1="217.10" y1="235.00" x2="219.70" y2="235.00" stroke="#666" stroke-width="1.0"/>
<text x="212.40" y="238.10" font-size="8.6" text-anchor="end">1</text>
<line x1="217.10" y1="208.40" x2="219.70" y2="208.40" stroke="#666" stroke-width="1.0"/>
<text x="212.40" y="211.50" font-size="8.6" text-anchor="end">2</text>
<line x1="217.10" y1="181.80" x2="219.70" y2="181.80" stroke="#666" stroke-width="1.0"/>
<text x="212.40" y="184.90" font-size="8.6" text-anchor="end">3</text>
<line x1="219.20" y1="261.60" x2="345.11" y2="261.60" stroke="#111" stroke-width="1.0"/>
<line x1="219.70" y1="261.60" x2="219.70" y2="264.20" stroke="#111" stroke-width="1.0"/>
<line x1="236.11" y1="261.60" x2="236.11" y2="263.30" stroke="#111" stroke-width="1.0"/>
<line x1="245.70" y1="261.60" x2="245.70" y2="263.30" stroke="#111" stroke-width="1.0"/>
<line x1="252.51" y1="261.60" x2="252.51" y2="263.30" stroke="#111" stroke-width="1.0"/>
<line x1="257.79" y1="261.60" x2="257.79" y2="263.30" stroke="#111" stroke-width="1.0"/>
<line x1="262.11" y1="261.60" x2="262.11" y2="263.30" stroke="#111" stroke-width="1.0"/>
<line x1="265.76" y1="261.60" x2="265.76" y2="263.30" stroke="#111" stroke-width="1.0"/>
<line x1="268.92" y1="261.60" x2="268.92" y2="263.30" stroke="#111" stroke-width="1.0"/>
<line x1="271.71" y1="261.60" x2="271.71" y2="263.30" stroke="#111" stroke-width="1.0"/>
<line x1="274.20" y1="261.60" x2="274.20" y2="264.20" stroke="#111" stroke-width="1.0"/>
<line x1="290.61" y1="261.60" x2="290.61" y2="263.30" stroke="#111" stroke-width="1.0"/>
<line x1="300.20" y1="261.60" x2="300.20" y2="263.30" stroke="#111" stroke-width="1.0"/>
<line x1="307.01" y1="261.60" x2="307.01" y2="263.30" stroke="#111" stroke-width="1.0"/>
<line x1="312.29" y1="261.60" x2="312.29" y2="263.30" stroke="#111" stroke-width="1.0"/>
<line x1="316.61" y1="261.60" x2="316.61" y2="263.30" stroke="#111" stroke-width="1.0"/>
<line x1="320.26" y1="261.60" x2="320.26" y2="263.30" stroke="#111" stroke-width="1.0"/>
<line x1="323.42" y1="261.60" x2="323.42" y2="263.30" stroke="#111" stroke-width="1.0"/>
<line x1="326.21" y1="261.60" x2="326.21" y2="263.30" stroke="#111" stroke-width="1.0"/>
<line x1="328.70" y1="261.60" x2="328.70" y2="264.20" stroke="#111" stroke-width="1.0"/>
<line x1="345.11" y1="261.60" x2="345.11" y2="263.30" stroke="#111" stroke-width="1.0"/>
<text x="219.70" y="276.80" font-size="8.6" text-anchor="middle">0.01</text>
<text x="274.20" y="276.80" font-size="8.6" text-anchor="middle">0.1</text>
<text x="328.70" y="276.80" font-size="8.6" text-anchor="middle">1</text>
<text x="285.50" y="289.00" font-size="9.3" text-anchor="middle">GrzK (units/ul)</text>
<text x="201.00" y="225.70" font-size="9.3" text-anchor="middle" transform="rotate(-90 201.00 225.70)">Fold activation</text>
<line x1="229.80" y1="177.50" x2="244.20" y2="177.50" stroke="#111" stroke-width="1.0"/>
<rect x="234.70" y="174.90" width="5.20" height="5.20" fill="#b4b4b4" stroke="#111" stroke-width="1"/>
<text x="246.70" y="180.80" font-size="9.2" text-anchor="start">GLS.SGR</text>
<line x1="229.80" y1="188.50" x2="244.20" y2="188.50" stroke="#111" stroke-width="1.0"/>
<rect x="234.70" y="185.90" width="5.20" height="5.20" fill="#fff" stroke="#111" stroke-width="1"/>
<text x="246.70" y="191.80" font-size="9.2" text-anchor="start">GLS.PGPR</text>
<line x1="229.80" y1="199.60" x2="244.20" y2="199.60" stroke="#111" stroke-width="1.0"/>
<circle cx="237.30" cy="199.60" r="2.76" fill="#c0c0c0" stroke="#111" stroke-width="1"/>
<text x="246.70" y="202.90" font-size="9.2" text-anchor="start">GLS.QPGR</text>
<polyline points="226.40,235.30 255.80,238.00 279.80,232.70 304.20,224.60 330.30,189.30" fill="none" stroke="#111" stroke-width="1.4" stroke-linejoin="round"/>
<polyline points="226.40,233.30 255.80,235.30 279.80,234.30 304.20,234.60 330.30,231.60" fill="none" stroke="#111" stroke-width="1.4" stroke-linejoin="round"/>
<polyline points="226.40,231.70 255.80,230.20 279.80,230.20 304.20,231.20 330.30,234.20" fill="none" stroke="#111" stroke-width="1.4" stroke-linejoin="round"/>
<line x1="330.30" y1="184.00" x2="330.30" y2="194.80" stroke="#111" stroke-width="1.0"/>
<line x1="328.80" y1="184.00" x2="331.80" y2="184.00" stroke="#111" stroke-width="1.0"/>
<line x1="328.80" y1="194.80" x2="331.80" y2="194.80" stroke="#111" stroke-width="1.0"/>
<rect x="223.50" y="232.40" width="5.80" height="5.80" fill="#b4b4b4" stroke="#111" stroke-width="1"/>
<rect x="252.90" y="235.10" width="5.80" height="5.80" fill="#b4b4b4" stroke="#111" stroke-width="1"/>
<rect x="276.90" y="229.80" width="5.80" height="5.80" fill="#b4b4b4" stroke="#111" stroke-width="1"/>
<rect x="301.30" y="221.70" width="5.80" height="5.80" fill="#b4b4b4" stroke="#111" stroke-width="1"/>
<rect x="327.40" y="186.40" width="5.80" height="5.80" fill="#b4b4b4" stroke="#111" stroke-width="1"/>
<rect x="223.50" y="230.40" width="5.80" height="5.80" fill="#fff" stroke="#111" stroke-width="1"/>
<rect x="252.90" y="232.40" width="5.80" height="5.80" fill="#fff" stroke="#111" stroke-width="1"/>
<rect x="276.90" y="231.40" width="5.80" height="5.80" fill="#fff" stroke="#111" stroke-width="1"/>
<rect x="301.30" y="231.70" width="5.80" height="5.80" fill="#fff" stroke="#111" stroke-width="1"/>
<rect x="327.40" y="228.70" width="5.80" height="5.80" fill="#fff" stroke="#111" stroke-width="1"/>
<circle cx="226.40" cy="231.70" r="3.07" fill="#c0c0c0" stroke="#111" stroke-width="1"/>
<circle cx="255.80" cy="230.20" r="3.07" fill="#c0c0c0" stroke="#111" stroke-width="1"/>
<circle cx="279.80" cy="230.20" r="3.07" fill="#c0c0c0" stroke="#111" stroke-width="1"/>
<circle cx="304.20" cy="231.20" r="3.07" fill="#c0c0c0" stroke="#111" stroke-width="1"/>
<circle cx="330.30" cy="234.20" r="3.07" fill="#c0c0c0" stroke="#111" stroke-width="1"/>
<text x="361.90" y="165.00" font-size="11.2" text-anchor="start" font-weight="bold">F</text>
<line x1="396.20" y1="180.30" x2="396.20" y2="263.30" stroke="#666" stroke-width="1.0"/>
<line x1="393.60" y1="262.80" x2="396.20" y2="262.80" stroke="#666" stroke-width="1.0"/>
<text x="389.20" y="265.90" font-size="8.6" text-anchor="end">0</text>
<line x1="393.60" y1="249.05" x2="396.20" y2="249.05" stroke="#666" stroke-width="1.0"/>
<text x="389.20" y="252.15" font-size="8.6" text-anchor="end">10</text>
<line x1="393.60" y1="235.30" x2="396.20" y2="235.30" stroke="#666" stroke-width="1.0"/>
<text x="389.20" y="238.40" font-size="8.6" text-anchor="end">20</text>
<line x1="393.60" y1="221.55" x2="396.20" y2="221.55" stroke="#666" stroke-width="1.0"/>
<text x="389.20" y="224.65" font-size="8.6" text-anchor="end">30</text>
<line x1="393.60" y1="207.80" x2="396.20" y2="207.80" stroke="#666" stroke-width="1.0"/>
<text x="389.20" y="210.90" font-size="8.6" text-anchor="end">40</text>
<line x1="393.60" y1="194.05" x2="396.20" y2="194.05" stroke="#666" stroke-width="1.0"/>
<text x="389.20" y="197.15" font-size="8.6" text-anchor="end">50</text>
<line x1="393.60" y1="180.30" x2="396.20" y2="180.30" stroke="#666" stroke-width="1.0"/>
<text x="389.20" y="183.40" font-size="8.6" text-anchor="end">60</text>
<line x1="396.00" y1="262.80" x2="515.00" y2="262.80" stroke="#111" stroke-width="1.0"/>
<line x1="396.50" y1="262.80" x2="396.50" y2="265.40" stroke="#111" stroke-width="1.0"/>
<line x1="436.00" y1="262.80" x2="436.00" y2="265.40" stroke="#111" stroke-width="1.0"/>
<line x1="475.50" y1="262.80" x2="475.50" y2="265.40" stroke="#111" stroke-width="1.0"/>
<line x1="515.00" y1="262.80" x2="515.00" y2="265.40" stroke="#111" stroke-width="1.0"/>
<text x="396.50" y="276.90" font-size="8.6" text-anchor="middle">0.01</text>
<text x="436.00" y="276.90" font-size="8.6" text-anchor="middle">0.1</text>
<text x="475.50" y="276.90" font-size="8.6" text-anchor="middle">1</text>
<text x="515.00" y="276.90" font-size="8.6" text-anchor="middle">10</text>
<text x="463.20" y="290.20" font-size="9.3" text-anchor="middle">Nafamostat mesylate (uM)</text>
<text x="371.40" y="227.60" font-size="9.3" text-anchor="middle" transform="rotate(-90 371.40 227.60)">% inhibition of signal</text>
<line x1="402.20" y1="176.50" x2="417.80" y2="176.50" stroke="#111" stroke-width="1.0"/>
<rect x="407.30" y="173.90" width="5.20" height="5.20" fill="#b4b4b4" stroke="#111" stroke-width="1"/>
<text x="419.50" y="179.80" font-size="9.2" text-anchor="start">GLS.SGR + GrzA</text>
<line x1="402.20" y1="187.80" x2="417.80" y2="187.80" stroke="#111" stroke-width="1.0"/>
<rect x="407.30" y="185.20" width="5.20" height="5.20" fill="#fff" stroke="#111" stroke-width="1"/>
<text x="419.50" y="191.10" font-size="9.2" text-anchor="start">GLS.PGPR + GrzA</text>
<line x1="402.20" y1="199.00" x2="417.80" y2="199.00" stroke="#111" stroke-width="1.0"/>
<circle cx="409.90" cy="199.00" r="2.76" fill="#c0c0c0" stroke="#111" stroke-width="1"/>
<text x="419.50" y="202.30" font-size="9.2" text-anchor="start">GLS.SGR + GrzK</text>
<polyline points="396.50,262.00 436.30,256.60 475.60,224.50 515.20,193.30" fill="none" stroke="#111" stroke-width="1.4" stroke-linejoin="round"/>
<polyline points="396.50,259.30 436.30,250.50 475.60,226.40 515.20,196.80" fill="none" stroke="#111" stroke-width="1.4" stroke-linejoin="round"/>
<polyline points="396.50,262.60 436.30,262.60 475.60,247.00 515.20,220.40" fill="none" stroke="#111" stroke-width="1.4" stroke-linejoin="round"/>
<rect x="393.60" y="259.10" width="5.80" height="5.80" fill="#b4b4b4" stroke="#111" stroke-width="1"/>
<rect x="433.40" y="253.70" width="5.80" height="5.80" fill="#b4b4b4" stroke="#111" stroke-width="1"/>
<rect x="472.70" y="221.60" width="5.80" height="5.80" fill="#b4b4b4" stroke="#111" stroke-width="1"/>
<rect x="512.30" y="190.40" width="5.80" height="5.80" fill="#b4b4b4" stroke="#111" stroke-width="1"/>
<line x1="436.30" y1="245.70" x2="436.30" y2="255.00" stroke="#111" stroke-width="1.0"/>
<line x1="434.80" y1="245.70" x2="437.80" y2="245.70" stroke="#111" stroke-width="1.0"/>
<line x1="434.80" y1="255.00" x2="437.80" y2="255.00" stroke="#111" stroke-width="1.0"/>
<line x1="475.60" y1="220.40" x2="475.60" y2="233.30" stroke="#111" stroke-width="1.0"/>
<line x1="474.10" y1="220.40" x2="477.10" y2="220.40" stroke="#111" stroke-width="1.0"/>
<line x1="474.10" y1="233.30" x2="477.10" y2="233.30" stroke="#111" stroke-width="1.0"/>
<rect x="393.60" y="256.40" width="5.80" height="5.80" fill="#fff" stroke="#111" stroke-width="1"/>
<rect x="433.40" y="247.60" width="5.80" height="5.80" fill="#fff" stroke="#111" stroke-width="1"/>
<rect x="472.70" y="223.50" width="5.80" height="5.80" fill="#fff" stroke="#111" stroke-width="1"/>
<rect x="512.30" y="193.90" width="5.80" height="5.80" fill="#fff" stroke="#111" stroke-width="1"/>
<circle cx="396.50" cy="262.60" r="3.07" fill="#c0c0c0" stroke="#111" stroke-width="1"/>
<circle cx="436.30" cy="262.60" r="3.07" fill="#c0c0c0" stroke="#111" stroke-width="1"/>
<circle cx="475.60" cy="247.00" r="3.07" fill="#c0c0c0" stroke="#111" stroke-width="1"/>
<circle cx="515.20" cy="220.40" r="3.07" fill="#c0c0c0" stroke="#111" stroke-width="1"/>
</svg>
</body></html>
